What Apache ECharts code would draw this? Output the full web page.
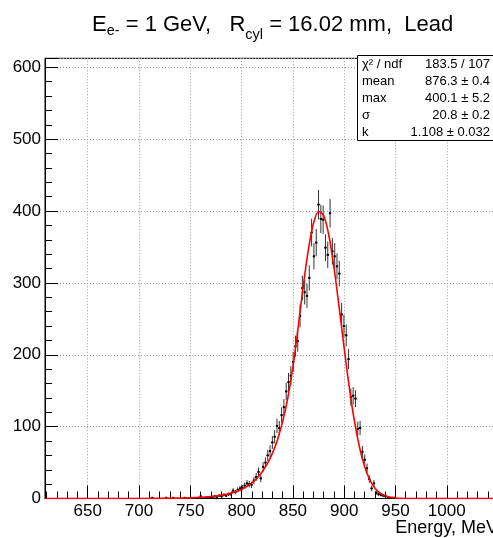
<!DOCTYPE html>
<html>
<head>
<meta charset="utf-8">
<script src="https://cdn.jsdelivr.net/npm/echarts@6/dist/echarts.min.js"></script>
<style>
  html, body { margin: 0; padding: 0; background: #fff; }
  #chart { width: 493px; height: 538px; }
</style>
</head>
<body>
<div id="chart"></div>
<script>
// histogram bins (centre, MeV) and entries
const energy = [
  713, 726.5, 733.25, 744.5, 751.25, 758, 760.25, 762.5, 764.75, 767,
  769.25, 771.5, 773.75, 776, 778.25, 780.5, 782.75, 785, 787.25, 789.5,
  791.75, 794, 796.25, 798.5, 800.75, 803, 805.25, 807.5, 809.75, 812,
  814.25, 816.5, 818.75, 821, 823.25, 825.5, 827.75, 830, 832.25, 834.5,
  836.75, 839, 841.25, 843.5, 845.75, 848, 850.25, 852.5, 854.75, 857,
  859.25, 861.5, 863.75, 866, 868.25, 870.5, 872.75, 875, 877.25, 879.5,
  881.75, 884, 886.25, 888.5, 890.75, 893, 895.25, 897.5, 899.75, 902,
  904.25, 906.5, 908.75, 911, 913.25, 915.5, 917.75, 920, 922.25, 924.5,
  926.75, 929, 931.25, 933.5, 935.75, 938, 940.25, 942.5, 944.75, 947,
  949.25
];
const counts = [
  1, 1, 1, 1, 1, 1, 3, 1, 1, 2,
  1, 2, 3, 2, 4, 3, 5, 4, 6, 6,
  11, 9, 12, 14, 15, 18, 21, 20, 19, 25,
  30, 37, 28, 44, 50, 60, 66, 78, 86, 101,
  98, 116, 127, 149, 162, 171, 190, 212, 219, 254,
  293, 287, 282, 307, 370, 337, 356, 409, 389, 388,
  349, 339, 397, 344, 337, 323, 313, 256, 240, 227,
  194, 141, 143, 139, 97, 98, 65, 54, 42, 27,
  14, 21, 8, 6, 5, 4, 3, 2, 1, 1,
  1
];
const binWidth = 2.25;

// fitted curve
const fitEnergy = [
  608.4, 700, 740, 750, 755, 760, 765, 770, 775, 780, 785, 790, 795, 800,
  805, 810, 815, 820, 825, 830, 835, 840, 845, 850, 855, 860, 865, 870,
  875, 880, 885, 890, 895, 900, 905, 910, 915, 920, 925, 930, 935, 940,
  945, 950, 955, 960, 1047
];
const fitValues = [
  0, 0, 0.5, 0.9, 1.2, 1.5, 2.0, 2.6, 3.4, 4.4, 5.7, 7.5, 9.7, 12.7,
  16.6, 21.6, 28.2, 36.9, 48.1, 62.8, 81.9, 106.9, 139.5, 182.1, 236.9, 294.3, 345.3, 382.2,
  399.3, 393.8, 366.6, 322.1, 267.1, 209.1, 154.4, 107.7, 70.9, 44.0, 25.8, 14.3, 7.5, 3.7,
  1.7, 0.8, 0.3, 0.1, 0
];

const statNames = ['χ² / ndf', 'mean', 'max', 'σ', 'k'];
const statValues = ['183.5 / 107', '876.3 ± 0.4', '400.1 ± 5.2', '20.8 ± 0.2', '1.108 ± 0.032'];

const FONT = '"Liberation Sans", Arial, Helvetica, sans-serif';
const chart = echarts.init(document.getElementById('chart'));

const histData = energy.map((e, i) => [e, counts[i], Math.sqrt(counts[i])]);
const fitData = fitEnergy.map((e, i) => [e, fitValues[i]]);

// stats box
const statsTop = 55, rowH = 17;
const statsChildren = [{
  type: 'rect', z: 100,
  shape: { x: 357.5, y: statsTop + 0.5, width: 140, height: rowH * 5 },
  style: { fill: '#fff', stroke: '#000', lineWidth: 1 }
}];
statNames.forEach((name, i) => {
  const cy = statsTop + rowH * i + rowH / 2 + 0.5;
  statsChildren.push({
    type: 'text', x: 362, y: cy, z: 101,
    style: { text: name, font: '13px ' + FONT, fill: '#000', textVerticalAlign: 'middle', textAlign: 'left' }
  });
  statsChildren.push({
    type: 'text', x: 490, y: cy, z: 101,
    style: { text: statValues[i], font: '13px ' + FONT, fill: '#000', textVerticalAlign: 'middle', textAlign: 'right' }
  });
});

const option = {
  animation: false,
  backgroundColor: '#fff',
  title: {
    text: '{n|E}{s1|e-}{n| = 1 GeV,   R}{s2|cyl}{n| = 16.02 mm,  Lead}',
    left: 92,
    top: 14,
    padding: 0,
    textStyle: {
      fontFamily: FONT,
      fontWeight: 'normal',
      rich: {
        n: { fontSize: 22, fontFamily: FONT, fontWeight: 'normal', color: '#000', lineHeight: 20, verticalAlign: 'top' },
        s1: { fontSize: 14.5, fontFamily: FONT, fontWeight: 'normal', color: '#000', lineHeight: 13, verticalAlign: 'top', padding: [9, 0, 0, 0] },
        s2: { fontSize: 14.5, fontFamily: FONT, fontWeight: 'normal', color: '#000', lineHeight: 13, verticalAlign: 'top', padding: [13, 0, 0, 0] }
      }
    }
  },
  grid: {
    left: 45, right: -2, top: 58.3, bottom: 39.5,
    show: true, borderColor: '#000', borderWidth: 1,
    containLabel: false, outerBoundsMode: 'none'
  },
  xAxis: {
    type: 'value',
    min: 608.4,
    max: 1047,
    splitNumber: 9,
    minInterval: 50,
    maxInterval: 50,
    name: 'Energy, MeV',
    nameLocation: 'end',
    nameGap: 3,
    nameTextStyle: {
      fontFamily: FONT, fontSize: 18, color: '#000',
      align: 'right', verticalAlign: 'top', padding: [21, 0, 0, 0]
    },
    axisLine: { lineStyle: { color: '#000', width: 1 } },
    axisTick: { inside: true, length: 13, lineStyle: { color: '#000' } },
    minorTick: { show: true, splitNumber: 5, length: 7, lineStyle: { color: '#000' } },
    axisLabel: {
      fontFamily: FONT, fontSize: 17, color: '#000', margin: 4,
      showMinLabel: false, showMaxLabel: false,
      formatter: v => String(v)
    },
    splitLine: { show: true, lineStyle: { color: '#999', width: 1, type: [1, 2] } }
  },
  yAxis: {
    type: 'value',
    min: 0,
    max: 612.5,
    interval: 100,
    axisLine: { show: true, lineStyle: { color: '#000', width: 1 } },
    axisTick: { show: true, inside: true, length: 13, lineStyle: { color: '#000' } },
    minorTick: { show: true, splitNumber: 5, length: 7, lineStyle: { color: '#000' } },
    axisLabel: {
      fontFamily: FONT, fontSize: 17, color: '#000', margin: 4,
      showMaxLabel: false
    },
    splitLine: { show: true, lineStyle: { color: '#999', width: 1, type: [1, 2] } }
  },
  graphic: [{ type: 'group', silent: true, z: 100, children: statsChildren }],
  series: [
    {
      type: 'custom',
      data: histData,
      encode: { x: 0, y: 1 },
      silent: true,
      z: 3,
      renderItem: (params, api) => {
        const x = api.value(0), y = api.value(1), err = api.value(2);
        const c = api.coord([x, y]);
        const top = api.coord([x, y + err]);
        const bot = api.coord([x, Math.max(0, y - err)]);
        const l = api.coord([x - binWidth / 2, y]);
        const r = api.coord([x + binWidth / 2, y]);
        return {
          type: 'group',
          children: [
            { type: 'line', shape: { x1: c[0], y1: top[1], x2: c[0], y2: bot[1] }, style: { stroke: '#333', lineWidth: 1 } },
            { type: 'line', shape: { x1: l[0], y1: c[1], x2: r[0], y2: c[1] }, style: { stroke: '#000', lineWidth: 1 } },
            { type: 'rect', shape: { x: c[0] - 1, y: c[1] - 1, width: 2, height: 2 }, style: { fill: '#000' } }
          ]
        };
      }
    },
    {
      type: 'line',
      data: fitData,
      smooth: 0.3,
      showSymbol: false,
      silent: true,
      z: 4,
      lineStyle: { color: '#ff0000', width: 1.6 }
    }
  ]
};

chart.setOption(option);
</script>
</body>
</html>
